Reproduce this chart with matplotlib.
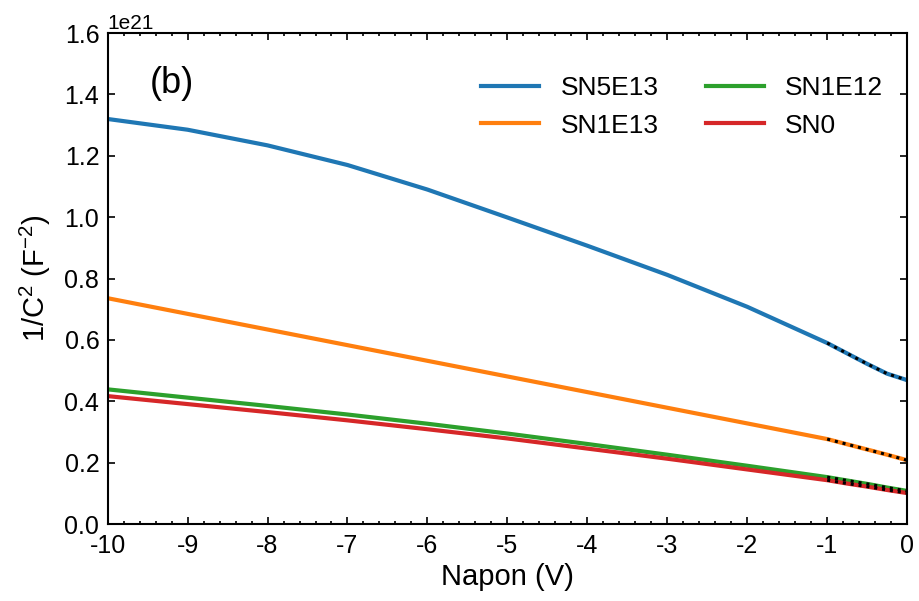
import matplotlib.pyplot as plt
from matplotlib.ticker import MultipleLocator

plt.rcParams['font.family'] = ['Liberation Sans', 'DejaVu Sans']
plt.rcParams['mathtext.fontset'] = 'custom'
plt.rcParams['mathtext.rm'] = 'Liberation Sans'
plt.rcParams['mathtext.it'] = 'Liberation Sans:italic'
plt.rcParams['axes.unicode_minus'] = False

# bias voltage (V)
voltage = [-10, -9, -8, -7, -6, -5, -4, -3, -2, -1, -0.75, -0.5, -0.25, 0]

# 1/C^2 in units of 1e21 F^-2
sn5e13 = [1.320, 1.285, 1.234, 1.170, 1.090, 0.999, 0.907, 0.812, 0.708, 0.590,
          0.556, 0.522, 0.490, 0.469]
sn1e13 = [0.736, 0.685, 0.634, 0.583, 0.532, 0.481, 0.430, 0.379, 0.328, 0.277,
          0.260, 0.243, 0.226, 0.208]
sn1e12 = [0.439, 0.412, 0.385, 0.357, 0.327, 0.295, 0.261, 0.226, 0.190, 0.153,
          0.142, 0.131, 0.119, 0.108]
sn0 = [0.417, 0.391, 0.365, 0.338, 0.309, 0.279, 0.246, 0.213, 0.178, 0.143,
       0.132, 0.122, 0.111, 0.101]

series = [("SN5E13", sn5e13), ("SN1E13", sn1e13), ("SN1E12", sn1e12), ("SN0", sn0)]
colors = ["#1f77b4", "#ff7f0e", "#2ca02c", "#d62728"]

fig = plt.figure(figsize=(9.2, 6.01), dpi=100)
ax = fig.add_axes([0.117, 0.128, 0.869, 0.817])

scale = 1e21
for (name, vals), c in zip(series, colors):
    ax.plot(voltage, [v * scale for v in vals], color=c, lw=3, label=name)

# fit region marked with black dots
for name, vals in series:
    xs = [x for x in voltage if x >= -1]
    ys = [v * scale for x, v in zip(voltage, vals) if x >= -1]
    ax.plot(xs, ys, color="black", lw=2.2, ls=(0, (1, 1.6)))

ax.set_xlim(-10, 0)
ax.set_ylim(0, 1.6e21)
ax.xaxis.set_major_locator(MultipleLocator(1))
ax.xaxis.set_minor_locator(MultipleLocator(0.2))
ax.yaxis.set_major_locator(MultipleLocator(0.2e21))
ax.tick_params(which="both", direction="in", top=True, right=True, labelsize=18, width=1.2)
ax.tick_params(which="major", length=5)
ax.tick_params(which="minor", length=2.5)
ax.tick_params(axis="x", pad=7)
ax.tick_params(axis="y", pad=6)
for s in ax.spines.values():
    s.set_linewidth(1.5)
ax.yaxis.get_offset_text().set_fontsize(15)

ax.set_xlabel("Napon (V)", fontsize=21, labelpad=4)
ax.set_ylabel("1/C$^2$ (F$^{-2}$)", fontsize=21, labelpad=8)
ax.text(0.053, 0.898, "(b)", transform=ax.transAxes, fontsize=26, va="center")

ax.legend(ncol=2, frameon=False, fontsize=19, loc="upper right",
          handlelength=2.2, handletextpad=0.8, columnspacing=1.8, labelspacing=0.5,
          bbox_to_anchor=(1.0, 0.96))

fig.savefig("out.png", dpi=100)
